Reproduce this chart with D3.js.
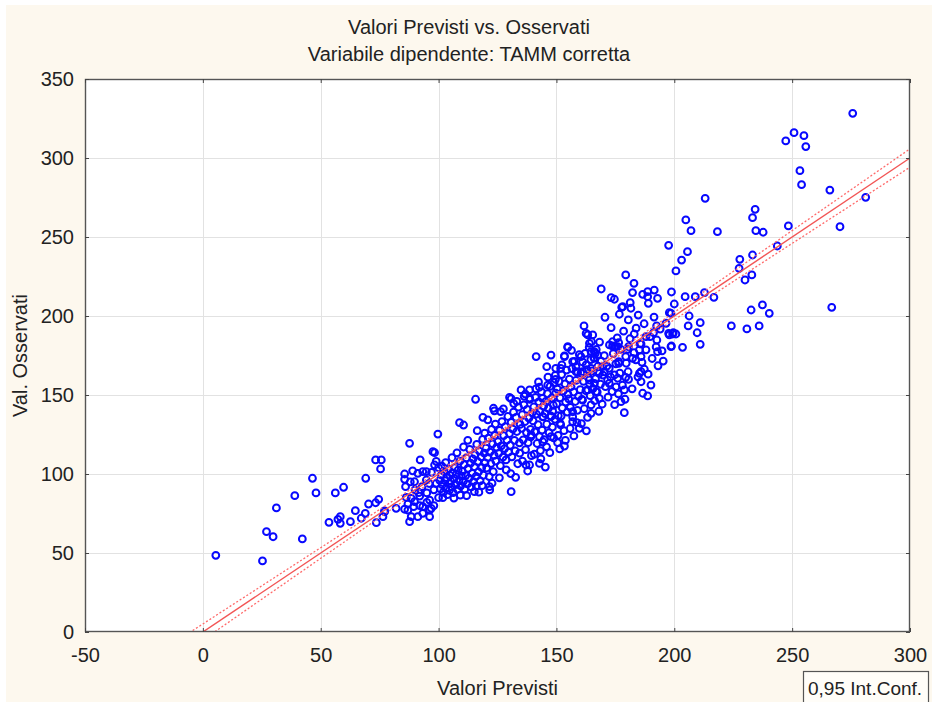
<!DOCTYPE html>
<html>
<head>
<meta charset="utf-8">
<script src="https://cdn.jsdelivr.net/npm/d3@7/dist/d3.min.js"></script>
<style>
  html, body { margin: 0; padding: 0; background: #ffffff; }
  svg { display: block; }
  text { font-family: "Liberation Sans", Arial, sans-serif; fill: #222; }
</style>
</head>
<body>
<svg id="chart" width="932" height="702"></svg>
<script>
// Titles and axis labels
const titleLines = ["Valori Previsti vs. Osservati", "Variabile dipendente: TAMM corretta"];
const xLabel = "Valori Previsti";
const yLabel = "Val. Osservati";
const legendLabel = "0,95 Int.Conf.";

// Tick values
const xTicks = [-50, 0, 50, 100, 150, 200, 250, 300];
const yTicks = [0, 50, 100, 150, 200, 250, 300, 350];

// Fitted line (observed on predicted) and its 95% confidence band
const fitIntercept = 0;
const fitSlope = 1;
const ciCentre = 140;
const ciMin = 1.0;
const ciGrowth = 0.0357;

// Cases: [predicted, observed]
const lowCases = [
  [5.5,48.5],[25.3,45],[27,63.5],[29.8,60.3],[31.2,78.5],[39,86.3],[42.2,58.9],[46.5,97.3],[48,88],
  [56.2,88],[59.7,91.6],[53.5,69.4],[57.3,71.3],[58.3,73],[58.3,68.8],[62.6,69.8],[64.7,76.8],[67.2,72],
  [68.9,75.1],[69.1,97.3],[70.3,81],[73.3,81.8],[74.6,84],[73.6,69.2],[73.3,108.9],[75.4,103.2],[76.4,73],
  [77.1,76.6],[82,78.3],[85.6,100],[85.6,96.6],[85.6,77.7],[87.7,69.8],[88.4,84.6],[89.4,79.3],[91.2,100.4],
  [91.6,88.2],[92.2,108.9],[93.3,75.1],[94.8,101.5],[96.2,83.5],[96.2,77.2],[98.3,105.7],[99,94.1],[98.3,113.5],
  [87.7,119.4],[99.7,125.3],[97.6,114.1],[108.9,132.5],[110.6,131],[118.8,135.9],[123.7,140],[130.8,88.8],
  [121.6,92],[115.2,88.8],[116,92.4],[101.8,85],[86.3,85.2],[89.8,82.5],[87,77.2],[88.4,73],[93.3,79.3],
  [96.9,78.3],[96.2,73],[91.2,73],[77.1,76.1],[89.8,95.1],[93.3,101.5],[94.8,96.2],[75.7,108.9],
  [86,92],[88,95],[90,90],[92,86],[93,92],[95,88],[96,94],[97,101],[98,90],[100,85],[100,104],[89,102],
  [87,81],[92,80],[95,82],[98,80],[99,108]
];

const coreCases = [
  [100.5,96],[100.8,90.5],[101.2,99.5],[101.6,93.2],[102,88.4],[102.3,101.6],[102.7,95.8],[103.1,91],[103.4,97.7],
  [103.8,86.9],[104.1,103.3],[104.5,93.9],[104.8,99.1],[101.5,104.9],[103,107.2],[104.6,89.7],
  [105.2,95.4],[105.5,91.8],[105.9,100.7],[106.2,88.2],[106.6,97.2],[106.9,104],[107.3,93.3],[107.6,99.8],[108,90.2],
  [108.3,102.5],[108.7,95.9],[109,108.1],[109.4,92.5],[109.7,98.6],[105.7,110.3],[107.8,113.4],[106.5,84.8],[109.2,86.6],
  [110.1,101.7],[110.4,95.1],[110.8,105.9],[111.1,90.4],[111.5,99],[111.8,110.2],[112.2,93.7],[112.5,103.5],[112.9,97.3],
  [113.2,115.6],[113.6,106.8],[113.9,91.8],[114.3,100.4],[114.6,109.5],[110.6,117.1],[112.4,121.3],[114.8,95.2],[111.9,86.3],
  [115.2,104.6],[115.5,112.3],[115.9,98.5],[116.2,118.7],[116.6,107.9],[116.9,101.3],[117.3,114.5],[117.6,95.7],[118,110.8],
  [118.3,104],[118.7,121.9],[119,99.2],[119.4,113.2],[119.7,107.1],[116.4,127.4],[118.5,92.6],[119.6,125.8],[117.1,88.5],
  [120.1,116.3],[120.4,103.8],[120.8,110.5],[121.1,122.7],[121.5,98.4],[121.8,113.9],[122.2,106.6],[122.5,128.2],[122.9,119.1],
  [123.2,101.5],[123.6,111.8],[123.9,124.5],[124.3,108.2],[124.6,116.9],[120.9,134.3],[122.7,94.2],[124.1,131.6],[121.7,89.9],
  [125.2,120.4],[125.5,113.1],[125.9,127.6],[126.2,105.3],[126.6,117.8],[126.9,133.2],[127.3,110.7],[127.6,124.3],[128,116.1],
  [128.3,129.9],[128.7,102.6],[129,121.5],[129.4,136.4],[129.7,113.8],[125.8,97.6],[127.5,141.2],[128.6,108.9],[126.3,139.5],
  [130.1,125.6],[130.4,118.2],[130.8,132.7],[131.1,110.9],[131.5,128.4],[131.8,139.1],[132.2,121.3],[132.5,114.6],[132.9,135.8],
  [133.2,126.9],[133.6,106.5],[133.9,142.3],[134.3,119.7],[134.6,131.4],[130.6,100.3],[132.7,97.9],[134.4,113.2],[131.9,144.6],
  [135.2,128.9],[135.5,137.5],[135.9,121.6],[136.2,143.8],[136.6,133.1],[136.9,115.4],[137.3,126.2],[137.6,140.9],[138,119.8],
  [138.3,135.3],[138.7,147.2],[139,128.3],[139.4,111.6],[139.7,138.7],[135.6,108.2],[137.8,101.9],[139.1,123.5],[136.8,150.6],
  [140.1,133.6],[140.4,142.4],[140.8,126.7],[141.1,148.5],[141.5,137.9],[141.8,119.3],[142.2,131.2],[142.5,145.7],[142.9,139.4],
  [143.2,114.8],[143.6,152.1],[143.9,127.8],[144.3,136.2],[144.6,143.1],[140.6,112.5],[142.4,158.3],[143.4,109.6],[144.8,121.7],
  [141.3,153.9],[144.1,147.9],
  [145.2,138.2],[145.5,145.9],[145.9,131.5],[146.2,150.8],[146.6,141.6],[146.9,126.1],[147.3,155.4],[147.6,136.8],[148,148.1],
  [148.3,129.7],[148.7,143.5],[149,157.9],[149.4,134.6],[149.7,151.2],[145.8,117.2],[147.2,113.5],[148.8,122.9],[149.5,162.4],
  [146.4,161.3],[148.4,139.8],
  [150.1,144.3],[150.4,153.7],[150.8,136.9],[151.1,158.6],[151.5,148.2],[151.8,131.1],[152.2,162.9],[152.5,141.8],[152.9,152.6],
  [153.2,127.4],[153.6,157.1],[153.9,145.5],[154.3,165.8],[154.6,139.2],[150.7,124.5],[152.3,169.1],[153.8,121.3],[154.9,150.4],
  [151.4,115.9],
  [155.2,147.6],[155.5,160.1],[155.9,142.2],[156.2,155.3],[156.6,166.7],[156.9,136.1],[157.3,151.9],[157.6,171.3],[158,145.9],
  [158.3,159.2],[158.7,132.5],[159,164.4],[159.4,149.1],[159.7,175.6],[155.8,128.8],[157.4,124.1],[158.9,140.3],[156.4,178.2],
  [160.1,153.4],[160.4,163.8],[160.8,147.2],[161.1,170.9],[161.5,158.6],[161.8,141.3],[162.2,176.4],[162.5,152.7],[162.9,166.1],
  [163.2,135.8],[163.6,160.9],[163.9,180.2],[164.3,149.6],[164.6,172.4],[160.6,131.9],[162.7,127.3],[164.1,157.1],
  [165.2,165.2],[165.5,154.1],[165.9,173.6],[166.2,146.4],[166.6,160.3],[166.9,178.8],[167.3,151.9],[167.6,168.2],[168,139.7],
  [168.3,183.5],[168.7,156.8],[169,171.4],[169.4,144.2],[169.7,162.6],
  [170.3,174.9],[170.8,155.3],[171.4,168.3],[171.9,148.6],[172.5,181.7],[173,161.4],[173.6,152.2],[174.1,176.2],[174.7,143.9],
  [175.2,169.7],[175.8,186.1],[176.3,150.7],[176.9,163.8],[177.4,178.9],[178,156.2],[178.5,190.4],[179.1,147.3],[179.6,170.1],
  [180.4,164.7],[181.2,185.6],[182.1,153.9],[182.9,176.8],[183.8,192.3],[184.6,161.5],[185.5,182.4],[186.3,170.7],[187.2,195.1],
  [188,178.6],[188.9,163.2],[189.7,186.9],[190.6,173.1],[191.4,199.3],[192.3,180.4],[193.1,168.5],[194,191.7],[194.8,177.9]
];

const edgeCases = [
  [142.8,106.7],[145.3,104.4],[138.6,105.7],[137.1,105.7],[153.4,117.7],[178.8,138.8],[164.7,138.4],[159.7,128.9],
  [144.2,136.3],[147.7,136.3],[152,136.7],[151.6,132.1],[156.9,133.1],[156.9,139.4],[139.3,124.7],[142.8,123.6],
  [144.2,120.4],[147.7,123.6],[150.5,119.8],
  [141.4,174.3],[147.7,175.3],[153.4,174.7],[154.8,180.2],[145.9,167.9],[149.7,166.9],[151.8,166.9],[156.9,171.1],
  [158.3,167.9],[149.6,159.9],[146.3,156.3],[142.8,154.9],[138.6,153.2],[135,153.2],[130.1,148.5],[115.7,147.3],
  [123.3,141.6],[130.8,147.7],[133.2,146],[136.3,149.2],[138.6,148.1],
  [188.7,212.2],[178.1,205.9],[197.9,202.1],[162.6,189],[166.1,177.4],[166.1,173.2],[167.5,175.3],[174.6,180.6],
  [176,180.6],[197.6,189],[199.6,189.4],[198.6,180.6],[185.2,178.5],[185.9,174.3],[182.3,173.2],[183.7,172.2],
  [180.2,178.9],[176.4,171.1],[185.2,163.7],[185.9,158.4],[179.4,161.2],[180.6,159.9],[190.1,156.3],[186.6,151.1],
  [188.7,149.4],[177.4,145.8],[178.8,153.2],[172.4,157.4],[175.3,155.2],[168.2,163.7],[170.3,164.7],[171.7,159.5],
  [174.6,162.7],[176,160.6],[164,159.5],[166.1,157.4],[163.3,153.2],[166.8,152.1],[168.2,147.9],[161.1,146.8],
  [164.7,143.7],[169.6,168],[172.4,166.9],[167.5,164.8],[164.7,166.9],[161.1,164.8],[162.6,169.1],[173.8,183.7],
  [158.3,164.8],[164,182.7],[164.7,177.4],[173.8,181],[176.4,170],[179.4,174.3]
];

const highCases = [
  [254,283.1],[266,279.7],[281.2,275.1],[213.1,274.5],[204.9,260.8],[207.1,254],[218.3,253.4],[234.3,267.5],
  [233.2,262.2],[234.6,254],[237.7,253],[248.4,257],[243.7,244.3],[270.3,256.5],[266.8,205.5],[197.6,244.7],
  [205.6,240.7],[203.1,235.4],[200.7,228.5],[227.8,235.9],[227.5,230.2],[233.2,238.6],[232.9,226],[230,222.8],
  [179.4,226],[169,217.1],[182.9,220.7],[182.3,214.8],[186.6,213.7],[188.7,215.4],[191.5,216.4],[192.9,211.2],
  [189,208],[198.8,215.2],[200,207.6],[204.6,212.2],[208.9,212.2],[212.8,214.8],[216.8,211.8],[173.2,211.6],
  [174.6,210.6],[177.7,205.5],[181.3,208.4],[181.6,204.9],[184.7,200.6],[180.5,197.5],[176.7,201.1],[170.6,199.2],
  [173.2,192.6],[161.7,193.7],[163.3,188],[165.4,188],[164.9,183.7],[154.8,180.6],[153.4,174.3],[160.4,174.3],
  [166.5,176.4],[175.3,180.6],[176.4,183.1],[180.6,180.6],[183,188.6],[185.9,182.3],[188,187],[191.2,189.4],
  [192.5,193.7],[196.5,195.4],[198.6,201.6],[197.9,188],[199.3,188.6],[200.7,188.6],[192.6,184.8],[192.9,177.4],
  [198.8,181],[203.5,180.2],[206.3,200],[205.9,193.7],[211,195.8],[209.7,189.4],[211,182.1],[195.3,171.5],
  [187.3,166.3],[185.9,164.8],[224.2,193.7],[230.8,191.8],[236,193.7],[232.6,203.8],[237.4,207],[240.3,201.7],
  [275.7,328.3],[250.8,316],[255,314.1],[247.3,310.8],[255.8,307.2],[253.3,292]
];

const cases = [].concat(lowCases, coreCases, edgeCases, highCases);

// Layout
const W = 932, H = 702;
const plot = { left: 85, top: 79, right: 910, bottom: 632 };
const fontSize = 20;

const svg = d3.select("#chart");

// Panel background
svg.append("rect").attr("x", 0).attr("y", 0).attr("width", W).attr("height", H).attr("fill", "#ffffff");
svg.append("rect").attr("x", 6).attr("y", 5).attr("width", W - 6).attr("height", H - 5).attr("fill", "#fdf8ee");

const x = d3.scaleLinear().domain([-50, 300]).range([plot.left, plot.right]);
const y = d3.scaleLinear().domain([0, 350]).range([plot.bottom, plot.top]);

// Plot area
svg.append("rect")
  .attr("x", plot.left).attr("y", plot.top)
  .attr("width", plot.right - plot.left).attr("height", plot.bottom - plot.top)
  .attr("fill", "#ffffff");

svg.append("defs").append("clipPath").attr("id", "plotClip")
  .append("rect")
  .attr("x", plot.left).attr("y", plot.top)
  .attr("width", plot.right - plot.left).attr("height", plot.bottom - plot.top);

// Grid
const grid = svg.append("g").attr("stroke", "#e2e2e2").attr("stroke-width", 1);
grid.selectAll("line.vx").data(xTicks.slice(1, -1)).join("line")
  .attr("x1", d => Math.round(x(d)) + 0.5).attr("x2", d => Math.round(x(d)) + 0.5)
  .attr("y1", plot.top).attr("y2", plot.bottom);
grid.selectAll("line.hy").data(yTicks.slice(1, -1)).join("line")
  .attr("x1", plot.left).attr("x2", plot.right)
  .attr("y1", d => Math.round(y(d)) + 0.5).attr("y2", d => Math.round(y(d)) + 0.5);

// Points
const pts = svg.append("g").attr("clip-path", "url(#plotClip)");
pts.selectAll("circle").data(cases).join("circle")
  .attr("cx", d => x(d[0]))
  .attr("cy", d => y(d[1]))
  .attr("r", 3.4)
  .attr("fill", "none")
  .attr("stroke", "#0808ff")
  .attr("stroke-width", 2);

// Fit line and confidence band
const fit = v => fitIntercept + fitSlope * v;
const halfWidth = v => Math.sqrt(ciMin * ciMin + Math.pow(ciGrowth * (v - ciCentre), 2));
const xs = d3.range(-20, 302, 2);
const lineGen = d3.line().x(d => x(d[0])).y(d => y(d[1]));
const fitLayer = svg.append("g").attr("clip-path", "url(#plotClip)").attr("fill", "none");
fitLayer.append("path")
  .attr("d", lineGen(xs.map(v => [v, fit(v) + halfWidth(v)])))
  .attr("stroke", "#ff6a6a").attr("stroke-width", 1.3).attr("stroke-dasharray", "2,2");
fitLayer.append("path")
  .attr("d", lineGen(xs.map(v => [v, fit(v) - halfWidth(v)])))
  .attr("stroke", "#ff6a6a").attr("stroke-width", 1.3).attr("stroke-dasharray", "2,2");
fitLayer.append("path")
  .attr("d", lineGen([[-20, fit(-20)], [300, fit(300)]]))
  .attr("stroke", "#f25555").attr("stroke-width", 1.4);

// Frame
svg.append("rect")
  .attr("x", plot.left + 0.5).attr("y", plot.top + 0.5)
  .attr("width", plot.right - plot.left - 1).attr("height", plot.bottom - plot.top - 1)
  .attr("fill", "none").attr("stroke", "#555").attr("stroke-width", 1.4);

// Axes with inward ticks on all four sides
const tickLen = 4;
const plainNumber = d => String(d);
svg.append("g").attr("transform", `translate(0,${plot.bottom})`)
  .call(d3.axisBottom(x).tickValues(xTicks).tickSize(-tickLen).tickSizeOuter(0).tickPadding(16).tickFormat(plainNumber))
  .call(g => g.select(".domain").remove())
  .call(g => g.selectAll(".tick line").attr("stroke", "#444"))
  .call(g => g.selectAll(".tick text").attr("font-size", fontSize).attr("fill", "#222")
    .attr("font-family", '"Liberation Sans", Arial, sans-serif'));
svg.append("g").attr("transform", `translate(0,${plot.top})`)
  .call(d3.axisTop(x).tickValues(xTicks).tickSize(-tickLen).tickSizeOuter(0).tickFormat(""))
  .call(g => g.select(".domain").remove())
  .call(g => g.selectAll(".tick line").attr("stroke", "#444"));
svg.append("g").attr("transform", `translate(${plot.left},0)`)
  .call(d3.axisLeft(y).tickValues(yTicks).tickSize(-tickLen).tickSizeOuter(0).tickPadding(11).tickFormat(plainNumber))
  .call(g => g.select(".domain").remove())
  .call(g => g.selectAll(".tick line").attr("stroke", "#444"))
  .call(g => g.selectAll(".tick text").attr("font-size", fontSize).attr("fill", "#222")
    .attr("font-family", '"Liberation Sans", Arial, sans-serif'));
svg.append("g").attr("transform", `translate(${plot.right},0)`)
  .call(d3.axisRight(y).tickValues(yTicks).tickSize(-tickLen).tickSizeOuter(0).tickFormat(""))
  .call(g => g.select(".domain").remove())
  .call(g => g.selectAll(".tick line").attr("stroke", "#444"));

// Titles
svg.selectAll("text.title").data(titleLines).join("text")
  .attr("class", "title")
  .attr("x", 469).attr("y", (d, i) => 34 + i * 27)
  .attr("text-anchor", "middle").attr("font-size", fontSize)
  .text(d => d);

// Axis labels
svg.append("text")
  .attr("x", (plot.left + plot.right) / 2).attr("y", 695)
  .attr("text-anchor", "middle").attr("font-size", fontSize)
  .text(xLabel);
svg.append("text")
  .attr("transform", `translate(27,${(plot.top + plot.bottom) / 2}) rotate(-90)`)
  .attr("text-anchor", "middle").attr("font-size", fontSize)
  .text(yLabel);

// Legend box
svg.append("rect")
  .attr("x", 803.5).attr("y", 671.5).attr("width", 125).attr("height", 34)
  .attr("fill", "#fffdf8").attr("stroke", "#555").attr("stroke-width", 1.2);
svg.append("text")
  .attr("x", 808).attr("y", 695).attr("font-size", 19)
  .text(legendLabel);
</script>
</body>
</html>
